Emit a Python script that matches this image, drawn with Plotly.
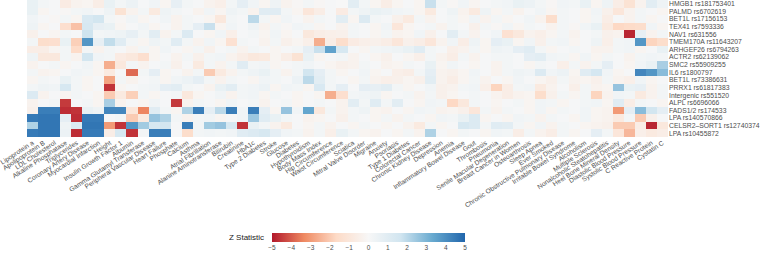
import plotly.graph_objects as go

phenotypes = ["Lipoprotein a", "Apolipoprotein B", "LDL Cholesterol", "Alkaline Phosphatase",
    "Triglycerides", "Coronary Artery Disease", "Myocardial Infarction", "Height",
    "Insulin Growth Factor 1", "Albumin", "Gamma Glutamyl Transferase",
    "Peripheral Vascular Disease", "Heart Failure", "Phosphate", "Calcium", "Asthma",
    "Atrial Fibrillation", "Alanine Aminotransferase", "Bilirubin", "Creatinine", "HbA1c",
    "Type 2 Diabetes", "Stroke", "Glucose", "Diabetes", "Hypothyroidism", "Body Mass Index",
    "Hip Circumference", "Waist Circumference", "Sciatica", "Mitral Valve Disorder",
    "Migraine", "Anxiety", "Psoriasis", "Type 1 Diabetes", "Colorectal Cancer",
    "Chronic Kidney Disease", "Depression", "Anemia", "Inflammatory Bowel Disease", "Gout",
    "Thrombosis", "Pneumonia", "Senile Macular Degeneration", "Breast Cancer in Women",
    "Osteoarthrosis", "Sleep Apnea", "Ever Smoked", "Chronic Obstructive Pulmonary Disease",
    "Irritable Bowel Syndrome", "Alcoholism", "Multiple Sclerosis",
    "Nonalcoholic Steatohepatitis", "Heel Bone Mineral Density", "Diastolic Blood Pressure",
    "Systolic Blood Pressure", "C Reactive Protein", "Cystatin C"]

variants = ["HMGB1 rs181753401", "PALMD rs6702619", "BET1L rs17156153", "TEX41 rs7593336",
    "NAV1 rs631556", "TMEM170A rs11643207", "ARHGEF26 rs6794263", "ACTR2 rs62139062",
    "SMC2 rs55909255", "IL6 rs1800797", "BET1L rs73386631", "PRRX1 rs61817383",
    "Intergenic rs551520", "ALPL rs6696066", "FADS1/2 rs174533", "LPA rs140570866",
    "CELSR2\u2013SORT1 rs12740374", "LPA rs10455872"]

z_hmgb1 = [0.6,0.2,0.1,-0.7,-0.3,-0.2,-0.6,0.6,0.2,0.5, 0.1,0.3,-0.2,0.7,0.2,0.1,-0.3,-0.5,0.2,0.8,
    0.3,-0.2,0.4,-0.3,-0.1,0.2,-0.1,0.1,0.0,0.9, 0.2,-0.2,-0.6,-0.2,0.1,-0.2,1.8,0.2,-0.1,0.3,
    -0.2,0.1,0.2,0.3,0.6,0.5,0.2,-0.1,0.3,0.2, 0.6,-0.2,0.4,-0.6,-1.2,-0.3,0.9,0.4]
z_palmd = [0.6,-0.2,0.1,-0.1,0.2,0.3,0.1,0.4,-1.2,-0.3, 0.2,-0.8,0.4,0.2,0.1,-0.3,0.3,-0.2,0.4,0.2,
    -0.3,1.0,1.0,0.2,-0.2,-1.0,-0.6,0.1,-0.7,0.2, 0.4,0.6,0.5,0.3,0.2,-0.2,-0.8,0.1,0.4,-0.3,
    -0.8,0.4,-0.2,0.2,-0.3,0.1,0.3,-0.2,0.2,0.1, -0.2,0.3,-0.4,-1.0,-0.3,0.2,0.1,-0.2]
z_bet1l_a = [0.3,0.1,-0.1,0.2,-0.2,1.3,1.6,0.2,-0.1,0.3, -0.2,0.1,0.3,-0.3,0.2,0.1,-0.2,-0.9,0.2,0.1,
    2.0,0.2,-0.2,0.3,0.1,-0.3,0.2,0.1,0.9,-0.2, 1.2,0.2,0.1,-0.4,-0.8,0.2,-0.3,0.1,0.2,-0.2,
    0.3,-0.3,0.2,-0.2,0.1,0.3,-0.3,-1.5,0.2,0.1, -0.2,0.2,-0.6,0.1,-0.3,0.2,-0.2,0.1]
z_tex41 = [0.4,-0.2,0.1,-1.4,-2.2,1.4,0.7,0.6,-0.2,0.1, 0.3,-0.2,0.1,-0.3,0.2,0.8,1.8,-0.2,0.3,0.1,
    0.4,-0.3,0.2,-0.1,0.3,0.2,-0.2,0.1,-0.3,0.2, 0.1,-0.2,0.3,-1.0,-0.2,0.1,0.2,-0.3,0.2,0.1,
    -0.4,0.2,-0.1,0.3,-0.2,0.2,0.1,-0.3,0.2,-0.1, 0.3,0.6,-0.8,-1.7,-1.6,-1.5,0.3,-0.2]
z_nav1 = [-0.4,0.1,-0.2,0.2,0.1,1.7,0.2,0.3,0.4,0.7, 0.2,0.9,-0.3,0.2,1.2,0.1,-0.2,0.3,-0.5,0.1,
    0.2,-0.2,0.3,-0.2,0.1,-0.9,-0.6,-0.5,-0.4,0.2, 0.1,-0.2,0.2,-0.3,-0.2,0.3,-0.4,0.1,0.9,0.2,
    -0.3,0.1,0.3,-1.3,-0.9,-0.3,-0.5,-0.2,0.2,-0.3, 0.1,0.2,-0.4,-0.3,-4.8,0.7,-0.3,0.2]
z_tmem = [0.2,-1.5,-1.4,0.6,-1.9,3.8,0.7,1.9,1.0,0.2, -0.2,0.4,0.2,1.0,0.2,-0.3,0.3,-0.2,-1.3,0.2,
    0.1,-0.3,0.2,-0.4,-0.2,-0.5,-2.6,-0.6,-1.5,-0.7, -0.5,-0.4,-0.6,-1.0,-0.4,-0.6,-1.0,-0.3,0.3,-0.6,
    0.4,-0.2,0.8,0.6,-0.2,0.3,-0.4,0.2,0.3,-0.2, 0.1,0.4,-0.5,0.2,0.3,3.8,-1.8,-1.5]
z_arhgef = [-0.6,-0.6,-0.2,0.2,-1.6,0.2,-0.3,0.2,0.1,-0.3, 0.2,-0.2,0.3,0.1,-0.2,0.2,-0.4,0.1,0.2,-0.3,
    0.2,0.1,-0.2,0.1,0.2,0.8,1.8,3.5,1.4,0.1, -0.2,0.2,0.3,0.4,0.6,1.0,0.2,0.1,-0.5,-0.3,
    0.2,-0.2,0.4,0.3,0.8,1.0,0.2,-0.2,0.1,0.2, 0.1,-0.3,-0.3,0.2,0.3,-0.2,0.1,0.6]
z_actr2 = [0.4,-0.9,-0.9,0.2,-0.3,1.6,0.3,0.2,-0.7,-0.9, -1.4,-0.2,0.1,-0.3,0.2,-0.4,0.2,0.3,-0.3,-0.6,
    -0.9,-0.8,-0.2,-0.6,-1.2,0.6,-0.2,0.1,0.2,-0.3, 0.1,-0.2,-0.4,0.1,-0.2,-0.5,0.2,-0.3,-0.6,0.2,
    -0.3,0.1,0.2,0.2,0.1,0.8,0.9,0.3,0.2,-0.2, 0.3,-0.2,0.2,0.1,-0.3,0.2,0.3,0.2]
z_smc2 = [-0.3,0.1,0.2,-0.2,0.1,0.3,-0.2,-2.6,-0.9,0.2, -0.3,0.1,0.2,-0.4,0.1,-0.8,0.2,-0.3,0.2,1.0,
    0.2,0.3,-0.2,0.1,0.2,0.3,0.1,-0.2,-0.4,-0.3, 0.2,0.1,-0.3,-0.2,0.2,0.1,0.6,-0.2,0.3,0.1,
    -0.2,0.1,-0.3,0.2,0.1,-0.2,0.2,0.1,-0.5,0.2, -0.3,0.2,0.8,0.1,-0.2,0.3,0.6,2.3]
z_il6 = [0.2,-0.3,-0.2,0.1,0.3,0.2,-0.2,-0.8,0.1,-3.8, 0.2,0.8,-0.2,0.1,-0.3,0.2,-2.0,-0.8,-0.3,0.2,
    0.4,0.6,0.2,-0.3,0.2,1.6,0.8,0.2,-0.2,0.1, 0.3,-0.2,0.1,-0.5,-0.6,0.2,0.8,-0.3,-0.4,-0.2,
    0.3,0.1,-0.3,0.2,0.4,0.3,1.2,0.3,0.5,-0.2, 1.0,1.5,0.3,-0.2,0.1,4.2,3.8,2.8]
z_bet1l_b = [-0.2,0.2,0.1,0.6,0.2,-0.2,0.1,-2.8,0.2,-0.3, 0.1,0.2,-0.2,0.3,0.5,0.8,0.2,-0.3,0.2,0.1,
    -0.2,0.3,0.2,0.1,0.5,2.0,0.9,0.2,0.1,-0.2, 0.2,-0.3,-0.5,-0.4,-0.2,-0.4,0.9,-0.3,-0.6,-0.2,
    0.2,-0.3,0.1,-0.2,0.3,0.1,-0.2,-0.4,0.2,-0.3, -0.2,-0.4,0.2,-0.3,-0.5,0.3,-0.2,0.1]
z_prrx1 = [0.2,0.4,0.3,1.4,0.2,-0.2,0.1,-4.6,-0.2,0.1, 0.2,0.3,0.8,0.9,0.2,0.1,-0.3,0.6,0.9,0.2,
    0.3,0.5,-0.2,0.3,0.2,-0.2,1.3,0.2,0.8,0.1, 0.8,0.7,0.9,0.2,-0.2,0.1,0.3,-0.4,-0.3,0.2,
    0.3,-0.5,-1.8,-0.6,0.2,0.3,-0.8,-0.3,0.1,-0.5, 0.2,-0.3,-0.2,2.6,0.6,0.7,-0.3,0.2]
z_interg = [1.2,-0.3,0.1,-0.2,0.2,0.1,-0.2,-2.0,-0.8,-1.9, 0.2,-0.2,0.1,0.2,-0.9,-0.2,0.1,0.3,-0.3,0.2,
    0.3,-0.2,0.2,0.1,-0.2,0.1,-0.2,-2.6,-1.4,0.2, 0.3,0.4,-0.2,0.1,0.2,-0.3,0.2,-0.4,-0.2,0.1,
    0.2,0.1,-0.3,-0.6,-0.3,-0.2,-1.5,-0.4,0.2,-0.2, 0.2,-1.8,-0.3,0.3,0.2,-0.8,-0.3,0.2]
z_alpl = [-0.3,0.1,0.2,-4.5,0.1,0.2,-0.2,2.3,-0.3,0.1, -0.2,0.3,0.1,-4.5,-0.3,0.2,0.1,-0.2,0.3,0.1,
    0.2,-0.3,0.1,0.2,-0.2,0.1,0.2,0.1,-0.3,0.9, 0.2,1.0,0.2,0.9,0.1,-0.2,0.3,0.2,-1.7,-0.9,
    0.2,0.1,-0.2,0.1,0.2,-0.2,0.3,0.2,-0.2,0.1, 0.2,0.3,-0.2,1.0,-0.6,0.2,0.1,-0.2]
z_fads = [-0.4,4.4,4.4,-4.7,-4.6,0.6,0.4,4.2,4.2,-1.0, -3.4,1.0,0.2,-0.2,2.2,4.4,0.8,2.0,4.4,0.3,
    4.4,0.8,-0.2,2.6,0.3,3.4,-0.9,0.2,-0.3,0.2, 0.4,-0.2,-0.3,0.1,-0.2,0.3,0.2,-0.3,-0.2,-0.4,
    -1.0,0.2,-0.3,0.2,0.1,-0.2,0.3,-0.2,0.2,0.1, 0.3,-0.2,-0.3,-3.0,0.8,2.8,1.6,0.8]
z_lpa_a = [4.5,4.6,4.6,0.8,-4.7,4.5,4.5,0.1,0.2,-2.0, -0.8,2.6,2.2,0.2,-0.3,0.2,0.3,-0.2,0.1,0.3,
    2.5,1.0,0.6,0.2,0.1,-0.3,-0.2,0.1,-0.4,0.2, 0.1,-0.2,0.2,-0.3,0.2,0.1,-0.2,0.3,0.2,0.6,
    1.2,-0.2,0.1,-0.2,0.3,0.2,-0.3,0.2,0.1,-0.2, 0.3,-0.2,-0.3,-0.8,0.2,-2.0,-0.4,0.1]
z_celsr2 = [2.2,4.6,4.6,0.4,1.2,4.6,4.6,-3.0,-4.6,3.8, 2.4,1.4,1.6,0.1,4.4,0.2,2.4,2.6,1.4,-4.6,
    0.6,0.2,-0.3,-0.8,0.1,-0.2,0.2,-0.3,0.1,-0.2, 0.2,0.1,-0.2,0.1,-0.3,-0.8,0.2,-0.2,0.1,1.4,
    1.2,0.2,1.0,0.9,0.2,-0.2,0.3,-0.3,0.2,0.1, -0.2,-0.3,-0.4,-2.0,-2.0,-0.6,-4.8,-0.9]
z_lpa_b = [4.5,4.6,4.6,0.5,-4.7,4.5,4.5,-0.6,1.4,-4.6, 0.2,4.4,4.4,0.1,-1.5,0.2,0.3,0.2,0.3,1.0,
    1.2,1.4,0.8,0.3,0.2,-0.3,0.2,-0.5,0.6,0.2, -0.2,-0.3,0.1,-0.2,0.2,-0.3,2.2,0.1,-0.2,0.2,
    0.1,-0.2,0.3,0.2,-0.6,0.2,-0.3,-0.6,0.2,-0.2, 0.1,0.8,0.2,-1.0,-2.4,-0.5,-0.8,-0.6]

z_rows = [z_hmgb1, z_palmd, z_bet1l_a, z_tex41, z_nav1, z_tmem, z_arhgef, z_actr2, z_smc2,
          z_il6, z_bet1l_b, z_prrx1, z_interg, z_alpl, z_fads, z_lpa_a, z_celsr2, z_lpa_b]

cbar_ticks = [-5, -4, -3, -2, -1, 0, 1, 2, 3, 4, 5]

colorscale = [[0.0, "#b2182b"], [1/6, "#ef8a62"], [2/6, "#fddbc7"], [0.5, "#f7f7f7"],
              [4/6, "#d1e5f0"], [5/6, "#67a9cf"], [1.0, "#2166ac"]]

W, H = 760, 254
L, R, T, B = 27, 92, 0, 117
plot_h = H - T - B
plot_w = W - L - R

fig = go.Figure(go.Heatmap(
    z=z_rows, x=phenotypes, y=variants, zmin=-5, zmax=5,
    colorscale=colorscale, xgap=0, ygap=0,
    colorbar=dict(orientation="h", thickness=9, lenmode="pixels", len=193,
                  x=(368.5 - L) / plot_w, xanchor="center",
                  y=1 - (233 - T) / plot_h, yanchor="top",
                  outlinewidth=0, ticks="", tickvals=cbar_ticks,
                  tickfont=dict(size=6.5, color="#4d4d4d", family="Liberation Sans"),
                  ypad=0, xpad=0),
))

fig.update_layout(
    template="none",
    width=W, height=H, margin=dict(l=L, r=R, t=T, b=B, pad=0, autoexpand=False),
    paper_bgcolor="white", plot_bgcolor="white",
    font=dict(family="Liberation Sans", color="#4d4d4d"),
    xaxis=dict(tickmode="array", tickvals=phenotypes, tickangle=-33,
               tickfont=dict(size=6.6, color="#4d4d4d"), ticks="", automargin=False,
               showgrid=False, zeroline=False, showline=False),
    yaxis=dict(tickmode="array", tickvals=variants, side="right", autorange="reversed",
               tickfont=dict(size=6.8, color="#4d4d4d"), automargin=False,
               ticks="", showgrid=False, zeroline=False, showline=False),
    annotations=[dict(text="Z Statistic", xref="paper", yref="paper",
                      x=(266 - L) / plot_w, y=1 - (237.5 - T) / plot_h,
                      xanchor="right", yanchor="middle", showarrow=False,
                      font=dict(size=8, color="#1a1a1a", family="Liberation Sans"))],
)

fig.write_html("out.html", config={"displayModeBar": False},
               post_script="document.body.style.margin='0';document.body.style.overflow='hidden';")
